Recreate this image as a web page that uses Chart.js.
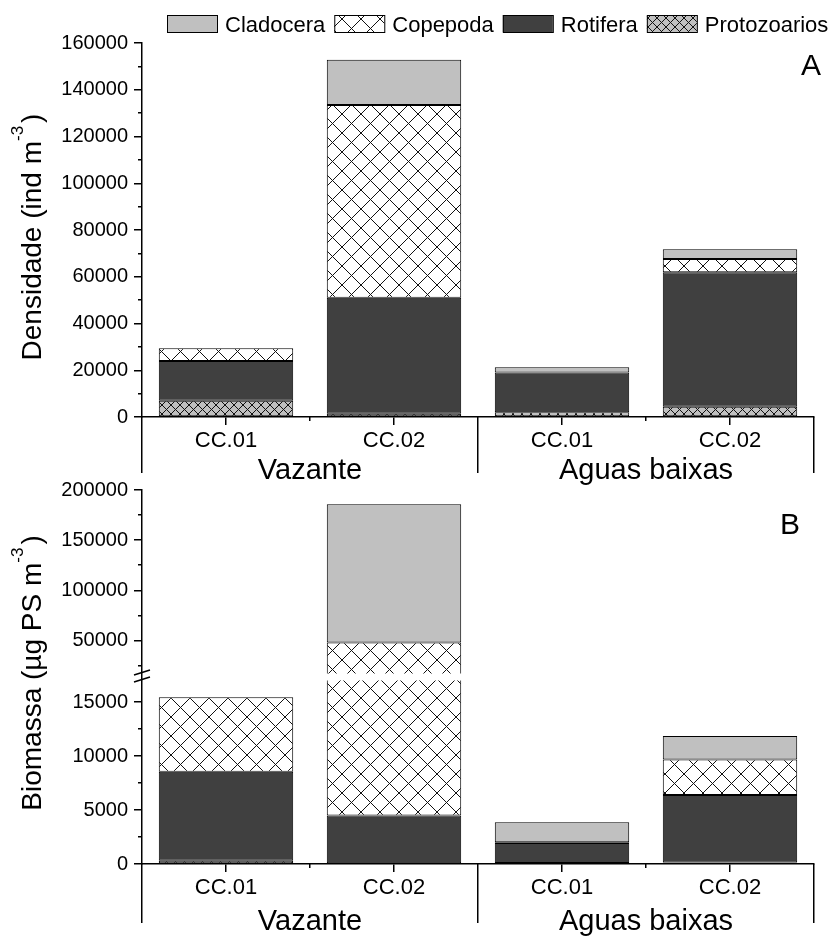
<!DOCTYPE html>
<html>
<head>
<meta charset="utf-8">
<script src="https://cdn.jsdelivr.net/npm/chart.js@4.4.1/dist/chart.umd.min.js"></script>
<style>
  html, body { margin: 0; padding: 0; background: #fff; }
  #wrap { position: relative; width: 836px; height: 937px; }
  canvas { position: absolute; left: 0; }
  #cA { top: 0; }
  #cB { top: 470px; }
</style>
</head>
<body>
<div id="wrap">
  <canvas id="cA" width="836" height="485"></canvas>
  <canvas id="cB" width="836" height="467"></canvas>
</div>
<script>
// categorias
const sitios = ['CC.01', 'CC.02', 'CC.01', 'CC.02'];
const periodos = ['Vazante', 'Aguas baixas'];

// A - Densidade (ind m-3)
const protoDens = [6900, 1400, 2000, 4400];
const rotDens   = [17100, 49600, 17000, 57500];
const copDens   = [5400, 82500, 0, 5700];
const cladDens  = [0, 19300, 2300, 4200];

// B - Biomassa (ug PS m-3)
const protoBio = [300, 0, 100, 150];
const rotBio   = [8250, 4500, 1850, 6240];
const copBio   = [6900, 43500, 60, 3300];
const cladBio  = [0, 137700, 1850, 2170];

// ticks
const ticksDens = [0, 20000, 40000, 60000, 80000, 100000, 120000, 140000, 160000];
const menoresDens = [10000, 30000, 50000, 70000, 90000, 110000, 130000, 150000];
const ticksBio = [0, 5000, 10000, 15000, 50000, 100000, 150000, 200000];
const menoresBio = [2500, 7500, 12500, 25000, 75000, 125000, 175000];

const CORTE = 17000;   // quebra do eixo em B
const GAP = 7;

const F = s => s + 'px "Liberation Sans", Arial, sans-serif';
Chart.defaults.font.family = '"Liberation Sans", Arial, sans-serif';
Chart.defaults.color = '#000';

// eixo y quebrado: metade de baixo 0..CORTE, metade de cima CORTE..max
class BrokenLinear extends Chart.LinearScale {
  getPixelForValue(v) {
    const h = this.bottom - this.top - GAP;
    const baixo = h / 2, cima = h - baixo;
    if (v <= CORTE) return this.bottom - (v - this.min) / (CORTE - this.min) * baixo;
    return this.bottom - baixo - GAP - (v - CORTE) / (this.max - CORTE) * cima;
  }
  getValueForPixel(p) {
    const h = this.bottom - this.top - GAP;
    const baixo = h / 2, cima = h - baixo;
    const d = this.bottom - p;
    if (d <= baixo) return this.min + d / baixo * (CORTE - this.min);
    return CORTE + (d - baixo - GAP) / cima * (this.max - CORTE);
  }
}
BrokenLinear.id = 'brokenLinear';
BrokenLinear.defaults = Chart.LinearScale.defaults;
Chart.register(BrokenLinear);

function hachura(ctx, fundo, traco, passo) {
  const c = document.createElement('canvas');
  c.width = c.height = passo;
  const g = c.getContext('2d');
  g.fillStyle = fundo;
  g.fillRect(0, 0, passo, passo);
  g.strokeStyle = traco;
  g.lineWidth = 1;
  g.beginPath();
  for (const k of [-passo, 0, passo]) {
    g.moveTo(k, 0); g.lineTo(k + passo, passo);
    g.moveTo(k + passo, 0); g.lineTo(k, passo);
  }
  g.stroke();
  return ctx.createPattern(c, 'repeat');
}

function series(ctx, proto, rot, cop, clad) {
  return [
    { label: 'Protozoarios', data: proto, backgroundColor: hachura(ctx, '#c0c0c0', '#111', 9) },
    { label: 'Rotifera', data: rot, backgroundColor: '#404040' },
    { label: 'Copepoda', data: cop, backgroundColor: hachura(ctx, '#fff', '#111', 19) },
    { label: 'Cladocera', data: clad, backgroundColor: '#c0c0c0' }
  ].map(d => Object.assign(d, {
    borderColor: '#000', borderWidth: 1, borderSkipped: false,
    barPercentage: 0.8, categoryPercentage: 1
  }));
}

const al = p => Math.round(p - 0.75) + 0.75;

function tituloY(ctx, cx, cy, main, sup, tail) {
  ctx.save();
  ctx.translate(cx, cy);
  ctx.rotate(-Math.PI / 2);
  ctx.textAlign = 'left';
  ctx.textBaseline = 'alphabetic';
  ctx.font = F(28);
  const w1 = ctx.measureText(main).width, w3 = ctx.measureText(tail).width;
  ctx.font = F(17);
  const w2 = ctx.measureText(sup).width + 3;
  let x = -(w1 + w2 + w3) / 2;
  ctx.font = F(28); ctx.fillText(main, x, 0); x += w1;
  ctx.font = F(17); ctx.fillText(sup, x, -18); x += w2;
  ctx.font = F(28); ctx.fillText(tail, x, 0);
  ctx.restore();
}

function moldura(op) {
  return {
    id: 'moldura' + op.letra,
    afterDraw(chart) {
      const { ctx, chartArea: a } = chart;
      const x = chart.scales.x, y = chart.scales.y;
      const cx = i => x.getPixelForValue(i);
      ctx.save();
      ctx.strokeStyle = '#000';
      ctx.fillStyle = '#000';
      ctx.lineWidth = 1.5;

      if (op.quebra) {
        const pL = y.getPixelForValue(CORTE);
        ctx.fillStyle = '#fff';
        ctx.fillRect(a.left + 1, pL - GAP, a.right - a.left, GAP);
        ctx.fillStyle = '#000';
        ctx.beginPath();
        for (const yy of [pL - GAP - 1, pL - 1]) {
          ctx.moveTo(a.left - 8, yy + 2.5);
          ctx.lineTo(a.left + 8, yy - 2.5);
        }
        ctx.stroke();
      }

      ctx.beginPath();
      op.menores.forEach(v => {
        const p = al(y.getPixelForValue(v));
        ctx.moveTo(a.left - 4, p); ctx.lineTo(a.left, p);
      });
      [(cx(0) + cx(1)) / 2, (cx(2) + cx(3)) / 2].forEach(p => {
        p = al(p);
        ctx.moveTo(p, a.bottom); ctx.lineTo(p, a.bottom + 4);
      });
      [a.left, (cx(1) + cx(2)) / 2, a.right].forEach(p => {
        p = al(p);
        ctx.moveTo(p, a.bottom); ctx.lineTo(p, a.bottom + op.sep);
      });
      ctx.stroke();

      ctx.font = F(29);
      ctx.textAlign = 'center';
      ctx.textBaseline = 'alphabetic';
      periodos.forEach((t, k) => ctx.fillText(t, (cx(2 * k) + cx(2 * k + 1)) / 2, a.bottom + op.base));

      ctx.font = F(30);
      ctx.fillText(op.letra, op.letraX, a.top + op.letraY);

      tituloY(ctx, 41, op.tituloY, op.titulo[0], '-3', op.titulo[1]);

      if (op.legenda) {
        const ordem = ['Cladocera', 'Copepoda', 'Rotifera', 'Protozoarios'];
        let lx = 167;
        ctx.font = F(22);
        ctx.textAlign = 'left';
        ctx.lineWidth = 1;
        ordem.forEach(nome => {
          const ds = chart.data.datasets.find(d => d.label === nome);
          ctx.fillStyle = ds.backgroundColor;
          ctx.fillRect(lx, 15, 50, 17);
          ctx.strokeRect(lx + 0.5, 15.5, 50, 17);
          ctx.fillStyle = '#000';
          ctx.fillText(nome, lx + 58, 32);
          lx += 58 + ctx.measureText(nome).width + 9;
        });
      }
      ctx.restore();
    }
  };
}

function eixos(yTipo, yExtra, alturaX) {
  return {
    x: {
      type: 'category',
      stacked: true,
      offset: true,
      grid: { drawOnChartArea: false, offset: false, tickLength: 8, color: '#000', lineWidth: 1.5 },
      border: { display: true, color: '#000', width: 1.5 },
      ticks: { font: { size: 22 }, padding: 3, color: '#000', maxRotation: 0, autoSkip: false },
      afterFit: s => { s.height = alturaX; }
    },
    y: Object.assign({
      type: yTipo,
      stacked: true,
      grid: { drawOnChartArea: false, tickLength: 8, color: '#000', lineWidth: 1.5 },
      border: { display: true, color: '#000', width: 1.5 },
      ticks: { font: { size: 20 }, padding: 6, color: '#000', autoSkip: false, callback: v => String(v) },
      afterFit: s => { s.width = 142; }
    }, yExtra)
  };
}

function buatGrafikA() {
  const ctx = document.getElementById('cA').getContext('2d');
  new Chart(ctx, {
    type: 'bar',
    data: { labels: sitios, datasets: series(ctx, protoDens, rotDens, copDens, cladDens) },
    options: {
      responsive: false,
      animation: false,
      layout: { padding: { top: 43, right: 22, left: 0, bottom: 0 } },
      plugins: { legend: { display: false }, tooltip: { enabled: false } },
      scales: eixos('linear', {
        min: 0, max: 160000,
        afterBuildTicks: s => { s.ticks = ticksDens.map(v => ({ value: v })); }
      }, 68)
    },
    plugins: [moldura({
      letra: 'A', letraX: 811, letraY: 32, menores: menoresDens,
      sep: 56, base: 62, tituloY: 237, titulo: ['Densidade (ind m', ')'], legenda: true
    })]
  });
}

function buatGrafikB() {
  const ctx = document.getElementById('cB').getContext('2d');
  new Chart(ctx, {
    type: 'bar',
    data: { labels: sitios, datasets: series(ctx, protoBio, rotBio, copBio, cladBio) },
    options: {
      responsive: false,
      animation: false,
      layout: { padding: { top: 20, right: 22, left: 0, bottom: 0 } },
      plugins: { legend: { display: false }, tooltip: { enabled: false } },
      scales: eixos('brokenLinear', {
        min: 0, max: 200000,
        afterBuildTicks: s => { s.ticks = ticksBio.map(v => ({ value: v })); }
      }, 73)
    },
    plugins: [moldura({
      letra: 'B', letraX: 790, letraY: 44, menores: menoresBio, quebra: true,
      sep: 59, base: 66, tituloY: 203, titulo: ['Biomassa (\u00b5g PS m', ')'], legenda: false
    })]
  });
}

buatGrafikA();
buatGrafikB();
</script>
</body>
</html>
